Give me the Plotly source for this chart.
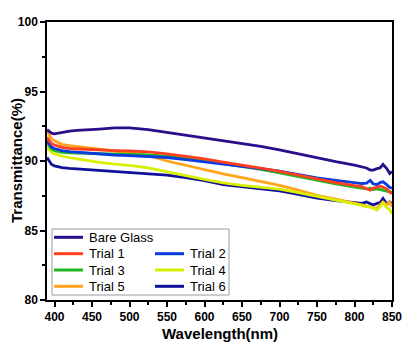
import plotly.graph_objects as go

# wavelength grid (nm) and transmittance (%)
wavelength = [390, 393, 396, 400, 405, 410, 420, 430, 440, 460, 480, 500, 525, 550,
              575, 600, 625, 650, 675, 700, 725, 750, 775, 800, 810, 816, 821, 825,
              830, 834, 838, 843, 847, 850]

bare_glass = [92.25, 92.1, 92.0, 91.95, 92.0, 92.1, 92.15, 92.2, 92.25, 92.3, 92.38, 92.38,
              92.25, 92.05, 91.85, 91.65, 91.45, 91.3, 91.05, 90.8, 90.5, 90.2, 89.95, 89.7,
              89.6, 89.5, 89.35, 89.35, 89.45, 89.5, 89.75, 89.45, 89.1, 89.25]
trial_1 = [91.7, 91.45, 91.25, 91.15, 91.05, 90.98, 90.9, 90.87, 90.84, 90.8, 90.75, 90.72,
           90.65, 90.52, 90.35, 90.15, 89.92, 89.72, 89.48, 89.25, 88.98, 88.7, 88.45, 88.22,
           88.15, 88.0, 87.9, 88.05, 88.1, 88.2, 88.1, 88.0, 87.75, 87.65]
trial_2 = [91.45, 91.2, 91.0, 90.9, 90.82, 90.75, 90.68, 90.63, 90.6, 90.5, 90.43, 90.38,
           90.33, 90.25, 90.1, 89.95, 89.78, 89.62, 89.45, 89.28, 89.02, 88.78, 88.6, 88.42,
           88.38, 88.4, 88.6, 88.35, 88.3, 88.45, 88.5, 88.3, 88.1, 88.05]
trial_3 = [91.3, 91.05, 90.85, 90.75, 90.68, 90.63, 90.58, 90.55, 90.55, 90.52, 90.5, 90.48,
           90.43, 90.35, 90.2, 90.03, 89.82, 89.62, 89.4, 89.15, 88.88, 88.58, 88.35, 88.12,
           88.05, 88.0, 88.05, 87.95, 88.0, 87.95, 87.9, 87.85, 87.8, 87.75]
trial_4 = [91.0, 90.8, 90.62, 90.5, 90.42, 90.35, 90.25, 90.15, 90.05, 89.9, 89.77, 89.68,
           89.5, 89.2, 88.95, 88.68, 88.42, 88.25, 88.1, 87.97, 87.72, 87.45, 87.2, 86.95,
           86.8, 86.7, 86.7, 86.6, 86.47, 86.7, 87.0, 86.65, 86.5, 86.2]
trial_5 = [92.15, 91.85, 91.6, 91.45, 91.3, 91.2, 91.1, 91.03, 90.97, 90.85, 90.72, 90.6,
           90.4, 90.0, 89.68, 89.37, 89.07, 88.8, 88.55, 88.25, 87.9, 87.52, 87.25, 86.98,
           86.85, 86.75, 86.7, 86.62, 86.57, 86.85, 87.05, 86.85, 87.05, 86.7]
trial_6 = [90.25, 89.95, 89.75, 89.65, 89.58, 89.52, 89.47, 89.43, 89.4, 89.35, 89.28, 89.2,
           89.1, 88.98, 88.8, 88.58, 88.3, 88.15, 88.0, 87.85, 87.6, 87.33, 87.15, 87.0,
           86.95, 87.05, 86.9, 86.83, 86.95, 87.0, 87.3, 86.9, 87.05, 86.95]

names = ["Bare Glass", "Trial 1", "Trial 2", "Trial 3", "Trial 4", "Trial 5", "Trial 6"]
series = [bare_glass, trial_1, trial_2, trial_3, trial_4, trial_5, trial_6]
colors = ["#2b0e8a", "#ff4020", "#0a3ae0", "#22b822", "#d8f000", "#ffa41c", "#10109a"]

FONT = "Arial, Liberation Sans, sans-serif"
W, H = 415, 354
OFF = 8  # the page body margin shifts the figure by 8px

fig = go.Figure()
# draw order: bare glass on top of the trials like the original
for name, ys, col in list(zip(names, series, colors))[::-1]:
    fig.add_scatter(x=wavelength, y=ys, name=name, mode="lines",
                    line=dict(color=col, width=2.8), showlegend=False)

# plot area in page pixels: x 47..392, y 22..300
L, R, T, B = 47, 392, 22, 300


def px(x):
    return (x - L) / (R - L)


def py(y):
    return (B - y) / (B - T)


# hand-built legend: Bare Glass alone on the first row, then two columns
slots = [(54, 237.3), (54, 253.7), (155, 253.7), (54, 270), (155, 270), (54, 286.3), (155, 286.3)]
shapes = [dict(type="rect", xref="paper", yref="paper", x0=px(52), x1=px(229),
               y0=py(295), y1=py(229), line=dict(color="#9a9a9a", width=1),
               fillcolor="white", layer="above")]
annotations = []
for (lx, ly), name, col in zip(slots, names, colors):
    shapes.append(dict(type="line", xref="paper", yref="paper", x0=px(lx), x1=px(lx + 29),
                       y0=py(ly), y1=py(ly), line=dict(color=col, width=3), layer="above"))
    annotations.append(dict(xref="paper", yref="paper", x=px(lx + 33), y=py(ly),
                            xanchor="left", yanchor="middle", text=name, showarrow=False,
                            font=dict(family=FONT, size=13, color="black")))

# axis titles as annotations so they sit exactly where the original has them
title_font = dict(family=FONT, size=15, color="black", weight="bold")
annotations.append(dict(xref="paper", yref="paper", x=px(219.5), y=py(333),
                        xanchor="center", yanchor="middle", text="Wavelength(nm)",
                        showarrow=False, font=title_font))
annotations.append(dict(xref="paper", yref="paper", x=px(16), y=py(161), textangle=-90,
                        xanchor="center", yanchor="middle", text="Transmittance(%)",
                        showarrow=False, font=title_font))

axis_common = dict(showline=True, linecolor="black", linewidth=1.5, mirror=True,
                   ticks="outside", ticklen=5, tickwidth=1.5, tickcolor="black",
                   showgrid=False, zeroline=False, automargin=False,
                   tickfont=dict(family=FONT, size=12, color="black", weight="bold"))

fig.update_layout(
    width=W, height=H,
    margin=dict(l=L - OFF, r=W - R + OFF, t=T - OFF, b=H - B + OFF),
    paper_bgcolor="white", plot_bgcolor="white",
    shapes=shapes, annotations=annotations,
    xaxis=dict(range=[390, 850], tickvals=[400, 450, 500, 550, 600, 650, 700, 750, 800, 850],
               minor=dict(dtick=25, tick0=0, ticks="outside", ticklen=3, tickcolor="black"),
               **axis_common),
    yaxis=dict(range=[80, 100], tickvals=[80, 85, 90, 95, 100],
               minor=dict(dtick=2.5, tick0=0, ticks="outside", ticklen=3, tickcolor="black"),
               **axis_common),
)

fig.write_html("out.html")
